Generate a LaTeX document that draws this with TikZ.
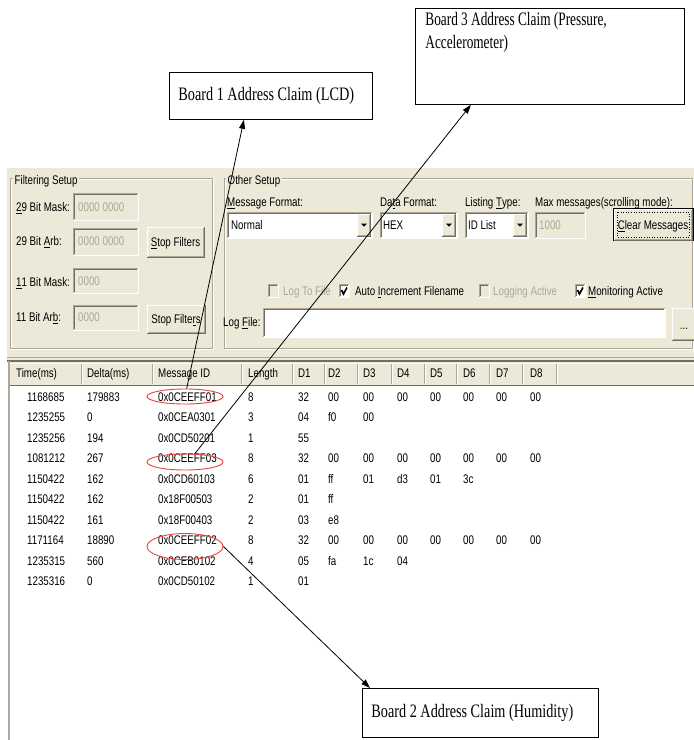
\documentclass[tikz,border=0pt]{standalone}
\usepackage{fontspec}
\setmainfont{Liberation Serif}
\newfontfamily\guifont[FakeStretch=0.78]{Liberation Sans}
\newfontfamily\callfont[FakeStretch=0.75]{Liberation Serif}
\newfontfamily\callfontn[FakeStretch=0.70]{Liberation Serif}
\usetikzlibrary{arrows.meta,shapes.geometric}
\definecolor{panel}{HTML}{ECE9D8}
\definecolor{gedge}{HTML}{ACA899}
\definecolor{gdark}{HTML}{716F64}
\definecolor{dis}{HTML}{ACA899}
\definecolor{redel}{HTML}{E8433F}

% sunken box: x1 y1 x2 y2 fill
\newcommand\sunkbox[5]{%
  \fill[#5] (#1,#2) rectangle (#3,#4);
  \draw[white] (#1,#4) -- (#3,#4) -- (#3,#2);
  \draw[gedge] (#1,#4) -- (#1,#2) -- (#3,#2);
  \draw[gdark] (#1+1,#4-1) -- (#1+1,#2+1) -- (#3-1,#2+1);}
% raised button: x1 y1 x2 y2
\newcommand\guibtn[4]{%
  \fill[panel] (#1,#2) rectangle (#3,#4);
  \draw[white] (#1,#4) -- (#1,#2) -- (#3,#2);
  \draw[gdark] (#1,#4) -- (#3,#4) -- (#3,#2);
  \draw[gedge] (#1+1,#4-1) -- (#3-1,#4-1) -- (#3-1,#2+1);}
% combo box
\newcommand\guicombo[4]{%
  \sunkbox{#1}{#2}{#3}{#4}{white}
  \guibtn{#3-15}{#2+2}{#3-2}{#4-2}
  \fill ({#3-11},{(#2+#4)/2-1.5}) -- ({#3-5},{(#2+#4)/2-1.5}) -- ({#3-8},{(#2+#4)/2+1.5}) -- cycle;}
% group box
\newcommand\guigroup[4]{%
  \draw[white] (#1+1,#2+1) rectangle (#3+1,#4+1);
  \draw[gedge] (#1,#2) rectangle (#3,#4);}
% checkbox x y fill
\newcommand\guicheck[3]{\sunkbox{#1}{#2}{#1+10}{#2+13}{#3}}
\newcommand\guitick[2]{\draw[line width=1.6pt] (#1+2.5,#2+6) -- (#1+4.5,#2+10) -- (#1+8,#2+3.5);}
\newcommand\bytex[1]{\ifcase#1\or298\or328\or363\or397\or430\or463\or496\or530\fi}

\tikzset{
  gt/.style={font=\guifont\fontsize{12.5}{14}\selectfont, inner sep=0pt, anchor=west, text height=9pt, text depth=0pt},
  dt/.style={gt, text=dis},
  gl/.style={gt, fill=panel, inner xsep=1.5pt},
  gc/.style={gt, anchor=center},
  callbox/.style={draw=black, line width=0.8pt, fill=white, inner sep=0pt, anchor=north west},
  idmark/.style={ellipse, draw=redel, line width=0.9pt, inner sep=0pt, minimum width=76pt},
  arr/.style={draw=black, line width=0.8pt, -{Triangle[length=9pt,width=6pt]}}
}

\begin{document}
\begin{tikzpicture}[x=1pt,y=-1pt]
\useasboundingbox (0,0) rectangle (694,740);
\fill[white] (0,0) rectangle (694,740);

% ---- settings panel
\fill[panel] (7,168) rectangle (694,362);
\guigroup{10}{178}{212}{348}
\guigroup{224}{178}{692}{348}
\node[gl] (fs) at (13,180) {Filtering Setup};
\node[gl] (os) at (226,180) {Other Setup};

% filtering setup
\node[gt] (l29m) at (16,207) {\underline{2}9 Bit Mask:};
\node[gt] (l29a) at (16,241) {29 Bit \underline{A}rb:};
\node[gt] (l11m) at (16,282) {\underline{1}1 Bit Mask:};
\node[gt] (l11a) at (16,317) {11 Bit Ar\underline{b}:};
\sunkbox{73}{193}{138}{220}{panel}
\sunkbox{73}{228}{138}{255}{panel}
\sunkbox{73}{268}{138}{293}{panel}
\sunkbox{73}{305}{138}{330}{panel}
\node[dt] (v29m) at (78,207) {0000 0000};
\node[dt] (v29a) at (78,241) {0000 0000};
\node[dt] (v11m) at (78,281) {0000};
\node[dt] (v11a) at (78,317) {0000};
\guibtn{147}{227}{204}{257}
\node[gc] (sf1) at (175.5,242) {\underline{S}top Filters};
\guibtn{147}{305}{205}{333}
\node[gc] (sf2) at (176,319) {Stop Filte\underline{r}s};

% other setup
\node[gt] (lmf) at (227,202) {\underline{M}essage Format:};
\guicombo{227}{212}{372}{238}
\node[gt] (vmf) at (231,225) {Normal};
\node[gt] (ldf) at (380,202) {Da\underline{t}a Format:};
\guicombo{380}{212}{457}{238}
\node[gt] (vdf) at (383,225) {HEX};
\node[gt] (llt) at (465,202) {Listing \underline{T}ype:};
\guicombo{465}{212}{528}{238}
\node[gt] (vlt) at (468,225) {ID List};
\node[gt] (lmm) at (535,202) {Max messages(scrolling mode):};
\sunkbox{535}{212}{585}{238}{panel}
\node[dt] (vmm) at (539,225) {1000};
\fill[black] (613,208) rectangle (694,241);
\guibtn{614}{209}{692}{240}
\draw[dotted, line width=0.6pt] (617,212) rectangle (689,237);
\node[gc] (cm) at (653,225) {\underline{C}lear Messages};

\guicheck{268}{284}{panel}
\node[dt] (ltf) at (283,291) {Log To File};
\guicheck{339}{284}{white}
\guitick{339}{284}
\node[gt] (aif) at (355,291) {Auto \underline{I}ncrement Filename};
\guicheck{479}{284}{panel}
\node[dt] (la) at (493,291) {Logging Active};
\guicheck{575}{284}{white}
\guitick{575}{284}
\node[gt] (ma) at (588,291) {\underline{M}onitoring Active};

\node[gt] (llf) at (223,322) {Log \underline{F}ile:};
\sunkbox{263}{308}{665}{337}{white}
\guibtn{672}{308}{696}{340}
\node[gc] (dots) at (684,325) {...};

% separator
\draw[gedge] (7,357) -- (694,357);
\draw[gdark, line width=1.5pt] (7,361) -- (694,361);

% ---- list
\fill[panel] (10,362) rectangle (694,385);
\draw[gedge, line width=2pt] (9,361) -- (9,740);
\draw[gdark] (10,385) -- (694,385);
\draw[white] (10,363) -- (694,363);
\foreach \cx in {82,153,242,293,325,358,392,425,457,490,523,557}{
  \draw[gedge] (\cx-1,364) -- (\cx-1,384);
  \draw[white] (\cx,364) -- (\cx,384);
}
\foreach \hx/\htxt [count=\k] in {16/Time(ms),87/Delta(ms),158/Message ID,248/Length,298/D1,328/D2,363/D3,397/D4,430/D5,463/D6,496/D7,530/D8}{
  \node[gt] (h\k) at (\hx,373) {\htxt};
}

\foreach \va/\vb/\vc/\vd/\bytes [count=\i] in {
 1168685/179883/0x0CEEFF01/8/{32,00,00,00,00,00,00,00},
 1235255/0/0x0CEA0301/3/{04,f0,00},
 1235256/194/0x0CD50201/1/{55},
 1081212/267/0x0CEEFF03/8/{32,00,00,00,00,00,00,00},
 1150422/162/0x0CD60103/6/{01,ff,01,d3,01,3c},
 1150422/162/0x18F00503/2/{01,ff},
 1150422/161/0x18F00403/2/{03,e8},
 1171164/18890/0x0CEEFF02/8/{32,00,00,00,00,00,00,00},
 1235315/560/0x0CEB0102/4/{05,fa,1c,04},
 1235316/0/0x0CD50102/1/{01}}{
  \pgfmathsetmacro\ry{397+20.45*(\i-1)}
  \node[gt] (t\i) at (27,\ry) {\va};
  \node[gt] (d\i) at (87,\ry) {\vb};
  \node[gt] (m\i) at (158,\ry) {\vc};
  \node[gt] (n\i) at (248,\ry) {\vd};
  \foreach \by [count=\j] in \bytes {
    \node[gt] (r\i-\j) at (\bytex{\j},\ry) {\by};
  }
}

% ---- red marks
\node[idmark, minimum height=15pt] (e1) at (185,396.5) {};
\node[idmark, minimum height=16pt] (e4) at (185,462) {};
\node[idmark, minimum height=26pt] (e8) at (185,546.5) {};

% ---- callouts
\node[callbox, inner xsep=9pt, minimum height=47pt,
      font=\callfont\fontsize{19}{23}\selectfont] (b1) at (169,72) {\makebox[185pt][l]{Board 1 Address Claim (LCD)}};
\node[callbox, font=\callfontn\fontsize{19}{23}\selectfont] (b3) at (415,8)
  {\parbox[c][96pt][t]{269pt}{\vspace{4pt}\hspace*{10pt}Board 3 Address Claim (Pressure,\\\hspace*{10pt}Accelerometer)}};
\node[callbox, inner xsep=9pt, minimum height=49pt,
      font=\callfont\fontsize{19}{23}\selectfont] (b2) at (362,688) {\makebox[218pt][l]{Board 2 Address Claim (Humidity)}};

% ---- connectors
\draw[arr] (e1.78) -- ([xshift=-27pt]b1.south);
\draw[arr] (e4.40) -- ([xshift=-79pt]b3.south);
\draw[arr] (e8.east) -- ([xshift=8pt]b2.north west);
\end{tikzpicture}
\end{document}
